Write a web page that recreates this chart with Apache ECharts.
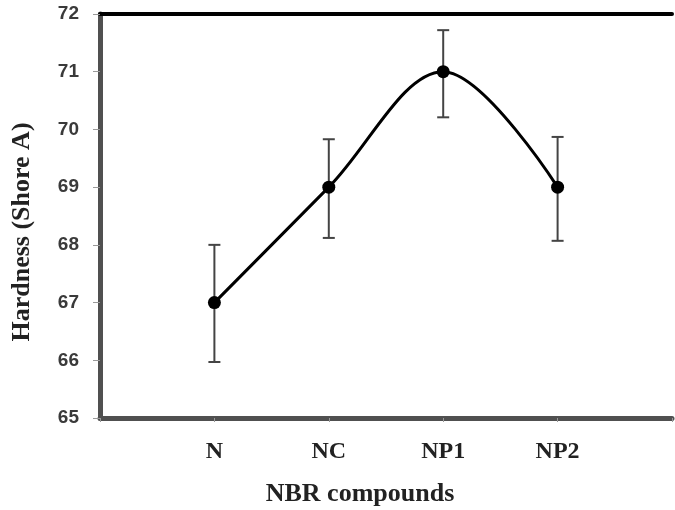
<!DOCTYPE html>
<html>
<head>
<meta charset="utf-8">
<script src="https://cdn.jsdelivr.net/npm/echarts@6/dist/echarts.min.js"></script>
<style>
  html, body { margin: 0; padding: 0; background: #fff; }
  #chart { width: 675px; height: 510px; }
</style>
</head>
<body>
<div id="chart"></div>
<script>
// NBR compound hardness with error bars
const categories = ['N', 'NC', 'NP1', 'NP2'];
const hardness = [67, 69, 71, 69];
const errUpper = [68.0, 69.83, 71.72, 69.87];
const errLower = [65.97, 68.12, 70.21, 68.07];
const yTicks = [65, 66, 67, 68, 69, 70, 71, 72];

const positions = categories.map((_, i) => i + 1);
const lineData = positions.map((x, i) => [x, hardness[i]]);
const errData = positions.map((x, i) => [x, errLower[i], errUpper[i]]);

const chart = echarts.init(document.getElementById('chart'));
chart.setOption({
  animation: false,
  grid: { left: 100, right: -8, top: 14, bottom: 92 },
  xAxis: [{
    type: 'value', min: 0, max: 5, interval: 1,
    axisLine: { show: true, lineStyle: { color: '#505050', width: 5 } },
    axisTick: { show: true, length: 4, lineStyle: { color: '#999', width: 1 } },
    splitLine: { show: false },
    axisLabel: {
      margin: 22,
      fontFamily: 'Liberation Serif', fontWeight: 'bold', fontSize: 24, color: '#222',
      formatter: v => (v >= 1 && v <= categories.length) ? categories[v - 1] : ''
    }
  }, {
    type: 'value', position: 'top', min: 0, max: 5,
    axisLine: { show: true, onZero: false, lineStyle: { color: '#000', width: 4 } },
    axisTick: { show: false }, axisLabel: { show: false }, splitLine: { show: false }
  }],
  yAxis: {
    type: 'value', min: yTicks[0], max: yTicks[yTicks.length - 1], interval: 1,
    axisLine: { show: true, lineStyle: { color: '#505050', width: 5 } },
    axisTick: { show: true, length: 7, lineStyle: { color: '#999', width: 1 } },
    splitLine: { show: false },
    axisLabel: {
      margin: 21,
      fontFamily: 'Liberation Sans', fontWeight: 'bold', fontSize: 19, color: '#3a3a3a'
    }
  },
  graphic: [{
    type: 'text',
    style: {
      text: 'Hardness (Shore A)', fontFamily: 'Liberation Serif', fontWeight: 'bold',
      fontSize: 26, fill: '#222', textAlign: 'center', textVerticalAlign: 'middle'
    },
    x: 22, y: 232, rotation: Math.PI / 2
  }, {
    type: 'text',
    style: {
      text: 'NBR compounds', fontFamily: 'Liberation Serif', fontWeight: 'bold',
      fontSize: 26, fill: '#222', textAlign: 'center', textVerticalAlign: 'middle'
    },
    x: 360, y: 494
  }],
  series: [{
    type: 'custom',
    data: errData,
    z: 1,
    renderItem: (params, api) => {
      const x = api.value(0);
      const lo = api.coord([x, api.value(1)]);
      const hi = api.coord([x, api.value(2)]);
      const cap = 6;
      const style = { stroke: '#444', lineWidth: 2 };
      return {
        type: 'group',
        children: [
          { type: 'line', shape: { x1: lo[0], y1: lo[1], x2: hi[0], y2: hi[1] }, style },
          { type: 'line', shape: { x1: lo[0] - cap, y1: lo[1], x2: lo[0] + cap, y2: lo[1] }, style },
          { type: 'line', shape: { x1: hi[0] - cap, y1: hi[1], x2: hi[0] + cap, y2: hi[1] }, style }
        ]
      };
    }
  }, {
    type: 'line',
    data: lineData,
    z: 2,
    smooth: 0.35,
    symbol: 'circle',
    symbolSize: 13,
    lineStyle: { color: '#000', width: 3 },
    itemStyle: { color: '#000' }
  }]
});
</script>
</body>
</html>
